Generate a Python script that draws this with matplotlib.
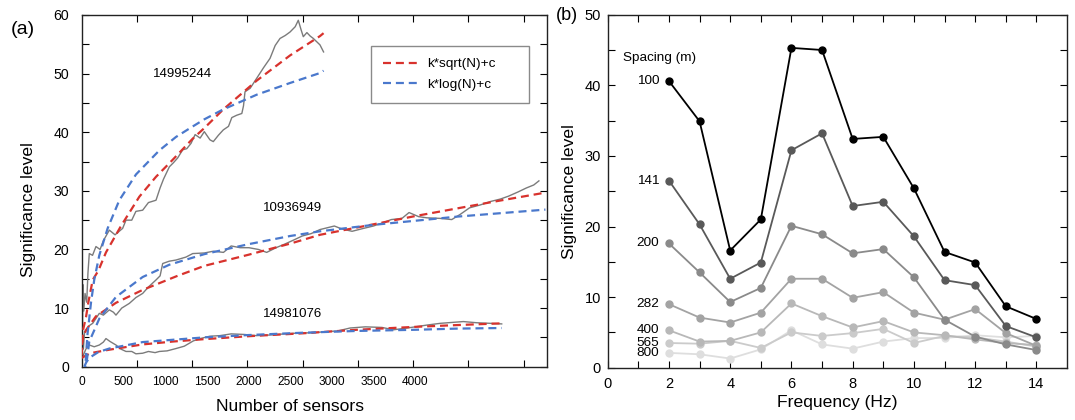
import matplotlib
matplotlib.use('Agg')
import matplotlib.pyplot as plt

plt.rcParams['font.family'] = ['Liberation Sans', 'DejaVu Sans']

# ---- panel (a): significance vs number of sensors
top_n = [0, 8, 15, 25, 40, 60, 75, 91, 130, 171, 220, 260, 331, 400, 491, 531, 600, 650,
         731, 800, 891, 940, 981, 1051, 1100, 1150, 1211, 1260, 1311, 1360, 1420, 1470,
         1538, 1578, 1640, 1698, 1760, 1800, 1859, 1920, 1940, 1958, 2020, 2098, 2180,
         2258, 2320, 2378, 2440, 2498, 2560, 2597, 2630, 2657, 2700, 2740, 2777, 2857, 2900]
top_sig = [2.0, 5.0, 14.0, 9.5, 12.5, 11.0, 16.0, 19.3, 19.0, 20.5, 20.0, 21.5, 23.3, 22.5,
           23.6, 25.0, 25.0, 26.5, 26.7, 28.0, 28.4, 30.5, 32.0, 34.1, 34.8, 35.6, 37.0, 37.2,
           38.1, 39.6, 39.0, 40.1, 38.7, 38.4, 39.5, 40.4, 41.0, 42.5, 42.9, 43.2, 44.5, 46.9,
           47.5, 49.2, 51.0, 52.6, 54.8, 56.0, 56.5, 57.1, 58.0, 59.1, 57.5, 56.3, 57.0, 56.4,
           56.0, 54.9, 53.7]

mid_n = [0, 10, 20, 35, 52, 90, 132, 211, 260, 331, 380, 411, 480, 571, 650, 731, 800, 891,
         940, 971, 1050, 1131, 1250, 1331, 1470, 1578, 1700, 1792, 1900, 2005, 2120, 2218,
         2330, 2432, 2540, 2645, 2750, 2858, 3029, 3120, 3242, 3380, 3498, 3600, 3712, 3840,
         3925, 4040, 4138, 4300, 4437, 4540, 4650, 4780, 4906, 5020, 5119, 5230, 5333, 5420, 5482]
mid_sig = [2.0, 5.5, 3.0, 6.0, 6.3, 7.0, 7.4, 9.1, 8.8, 9.7, 9.3, 8.8, 10.0, 10.8, 11.8, 12.5,
           13.6, 14.8, 15.5, 17.6, 18.0, 18.2, 18.7, 19.3, 19.4, 19.7, 19.5, 20.6, 20.3, 20.3,
           20.0, 19.5, 20.3, 20.9, 21.6, 22.3, 22.7, 23.4, 24.0, 23.5, 23.1, 23.6, 24.0, 24.5,
           25.1, 25.3, 26.3, 25.6, 25.4, 25.3, 25.1, 26.0, 27.1, 27.6, 28.2, 28.6, 29.1, 29.8,
           30.5, 31.0, 31.7]

low_n = [0, 12, 50, 91, 150, 211, 260, 291, 340, 411, 470, 531, 600, 650, 731, 800, 880, 931,
         1024, 1131, 1230, 1338, 1420, 1536, 1658, 1792, 1950, 2090, 2250, 2432, 2538, 2773,
         2950, 3072, 3217, 3400, 3600, 3738, 3900, 4000, 4138, 4300, 4576, 4735, 4900, 5036]
low_sig = [1.0, 1.7, 3.0, 3.7, 3.4, 3.7, 4.2, 4.8, 4.3, 3.7, 3.0, 2.6, 2.6, 2.2, 2.3, 2.6,
           2.4, 2.6, 2.7, 3.1, 3.5, 4.4, 4.8, 5.2, 5.3, 5.6, 5.5, 5.3, 5.4, 5.6, 5.7, 5.8, 6.0,
           6.1, 6.6, 6.8, 6.7, 6.3, 6.6, 6.8, 7.1, 7.4, 7.7, 7.5, 7.4, 7.3]

# fitted curves, sampled from the figure
top_sqrt_n = [0, 4, 10, 20, 52, 80, 132, 200, 291, 471, 691, 891, 1091, 1331, 1470, 1698,
              2098, 2498, 2857, 2900]
top_sqrt = [1.9, 3.4, 5.1, 6.5, 8.5, 11.0, 14.8, 16.4, 19.5, 24.0, 29.0, 32.4, 35.3, 38.9,
            40.7, 43.9, 48.8, 53.1, 56.4, 56.9]
top_log_n = [40, 52, 70, 112, 150, 211, 311, 451, 651, 931, 1131, 1299, 1470, 1698, 2098,
             2498, 2857, 2900]
top_log = [-1.2, 2.0, 5.6, 11.0, 14.8, 19.0, 23.6, 28.4, 32.8, 36.9, 39.2, 40.7, 42.2, 43.9,
           46.4, 48.4, 50.1, 50.5]

mid_sqrt_n = [0, 20, 60, 171, 411, 731, 1131, 1470, 2000, 2500, 2857, 3500, 4000, 4500, 5000, 5560]
mid_sqrt = [3.7, 5.3, 6.4, 8.6, 10.9, 13.1, 15.4, 17.2, 19.1, 21.0, 22.5, 24.3, 25.7, 27.0,
            28.3, 29.7]
mid_log_n = [40, 60, 91, 150, 211, 411, 731, 1051, 1470, 2000, 2500, 2857, 3500, 4500, 5560]
mid_log = [-1.4, 0.9, 4.3, 6.2, 8.2, 11.9, 15.3, 17.4, 19.2, 20.9, 22.3, 23.1, 24.2, 25.6, 26.8]

low_sqrt_n = [0, 100, 331, 731, 1100, 1470, 2000, 2657, 3300, 4000, 4500, 5036]
low_sqrt = [1.5, 2.3, 2.9, 3.8, 4.3, 4.7, 5.2, 5.7, 6.3, 6.8, 7.1, 7.4]
low_log_n = [30, 60, 112, 200, 331, 731, 1100, 1470, 2000, 2657, 3300, 4000, 4500, 5036]
low_log = [0.0, 0.9, 1.7, 2.5, 3.1, 4.2, 4.6, 5.0, 5.4, 5.8, 6.1, 6.3, 6.5, 6.6]

n_labels = [0, 500, 1000, 1500, 2000, 2500, 3000, 3500, 4000]
n_ticks = [662, 1325, 1987, 2650, 3312, 3975, 4637, 5300]

# ---- panel (b): significance vs frequency per sensor spacing
freq = [2, 3, 4, 5, 6, 7, 8, 9, 10, 11, 12, 13, 14]
spacings = ['100', '141', '200', '282', '400', '565', '800']
sig_100 = [40.6, 34.9, 16.6, 21.0, 45.3, 45.0, 32.4, 32.7, 25.4, 16.4, 14.9, 8.7, 6.9]
sig_141 = [26.5, 20.3, 12.6, 14.9, 30.8, 33.2, 22.9, 23.5, 18.6, 12.4, 11.7, 5.9, 4.3]
sig_200 = [17.6, 13.5, 9.3, 11.3, 20.1, 18.9, 16.2, 16.8, 12.8, 6.8, 4.4, 3.3, 2.5]
sig_282 = [9.0, 7.1, 6.4, 7.8, 12.6, 12.6, 9.9, 10.7, 7.8, 6.8, 8.3, 4.9, 3.1]
sig_400 = [5.3, 3.7, 3.8, 5.0, 9.1, 7.3, 5.7, 6.6, 5.0, 4.6, 4.0, 3.5, 3.2]
sig_565 = [3.5, 3.4, 3.8, 2.8, 5.0, 4.5, 4.9, 5.5, 3.5, 4.5, 4.3, 3.7, 3.0]
sig_800 = [2.1, 1.9, 1.3, 2.6, 5.3, 3.3, 2.7, 3.7, 4.2, 4.2, 4.6, 4.3, 4.5]
grays = ['#000000', '#595959', '#8a8a8a', '#a3a3a3', '#b8b8b8', '#cbcbcb', '#dedede']

fig = plt.figure(figsize=(10.75, 4.2), dpi=100)
ax1 = fig.add_axes([0.0760, 0.1269, 0.4326, 0.8374])
ax2 = fig.add_axes([0.5653, 0.1245, 0.4273, 0.8405])

red = '#d8322d'
blue = '#4a78cc'
dash = (0, (3.6, 2.2))
for n, s in ((top_n, top_sig), (mid_n, mid_sig), (low_n, low_sig)):
    ax1.plot(n, s, color='#7b7b7b', lw=1.0, zorder=2)
for n, s in ((top_sqrt_n, top_sqrt), (mid_sqrt_n, mid_sqrt), (low_sqrt_n, low_sqrt)):
    ax1.plot(n, s, color=red, lw=1.6, ls=dash, zorder=3)
for n, s in ((top_log_n, top_log), (mid_log_n, mid_log), (low_log_n, low_log)):
    ax1.plot(n, s, color=blue, lw=1.6, ls=dash, zorder=3)

ax1.plot([], [], color=red, lw=1.6, ls=dash, label='k*sqrt(N)+c')
ax1.plot([], [], color=blue, lw=1.6, ls=dash, label='k*log(N)+c')
leg = ax1.legend(loc='upper left', bbox_to_anchor=(0.6215, 0.746, 0.3395, 0.166),
                 mode='expand', fontsize=9.7, fancybox=False, edgecolor='#8a8a8a',
                 framealpha=1, handlelength=2.6, handletextpad=0.7, borderpad=0.9,
                 labelspacing=0.6, borderaxespad=0)
leg.get_frame().set_linewidth(1.0)

ax1.text(1213, 50, '14995244', ha='center', va='center', fontsize=9.5)
ax1.text(2532, 27, '10936949', ha='center', va='center', fontsize=9.5)
ax1.text(2532, 9, '14981076', ha='center', va='center', fontsize=9.5)

ax1.set_xlim(0, 5576)
ax1.set_ylim(0, 60)
ax1.set_xticks(n_labels, [str(v) for v in n_labels])
ax1.set_xticks(n_ticks, minor=True)
ax1.set_yticks(range(0, 61, 10))
ax1.set_yticks(range(5, 60, 10), minor=True)
ax1.tick_params(axis='x', which='major', length=0, pad=7, labelsize=8.6)
ax1.tick_params(axis='x', which='minor', direction='in', length=5, width=0.8, top=True)
ax1.tick_params(axis='y', which='both', direction='in', length=5, width=0.8, right=True,
                labelsize=10.2, pad=9)
ax1.set_xlabel('Number of sensors', fontsize=12.6)
ax1.set_ylabel('Significance level', fontsize=12.6)
ax1.xaxis.set_label_coords(0.448, -0.092)
ax1.yaxis.set_label_coords(-0.098, 0.448)

for vals, name, c in zip((sig_100, sig_141, sig_200, sig_282, sig_400, sig_565, sig_800),
                         spacings, grays):
    ax2.plot(freq, vals, color=c, lw=1.3, marker='o', ms=5, zorder=10 - spacings.index(name))
    ax2.annotate(name, (freq[0], vals[0]), xytext=(-7, 0), textcoords='offset points',
                 ha='right', va='center', fontsize=9.7)
ax2.text(0.5, 43.9, 'Spacing (m)', ha='left', va='center', fontsize=9.7)

ax2.set_xlim(0, 15)
ax2.set_ylim(0, 50)
ax2.set_xticks(range(0, 15, 2))
ax2.set_xticks(range(1, 15, 2), minor=True)
ax2.set_yticks(range(0, 51, 10))
ax2.set_yticks(range(5, 50, 10), minor=True)
ax2.tick_params(which='both', direction='in', length=5, width=0.8, top=True, right=True,
                labelsize=10.5)
ax2.tick_params(axis='x', pad=7)
ax2.tick_params(axis='y', pad=5)
ax2.set_xlabel('Frequency (Hz)', fontsize=12.6)
ax2.set_ylabel('Significance level', fontsize=12.6)
ax2.xaxis.set_label_coords(0.5, -0.077)
ax2.yaxis.set_label_coords(-0.067, 0.5)

for ax in (ax1, ax2):
    for sp in ax.spines.values():
        sp.set_linewidth(1.0)
        sp.set_color('#222222')

fig.text(0.0102, 0.9286, '(a)', fontsize=14, va='center', ha='left')
fig.text(0.517, 0.962, '(b)', fontsize=13, va='center', ha='left')

fig.savefig('out.png', dpi=100)
